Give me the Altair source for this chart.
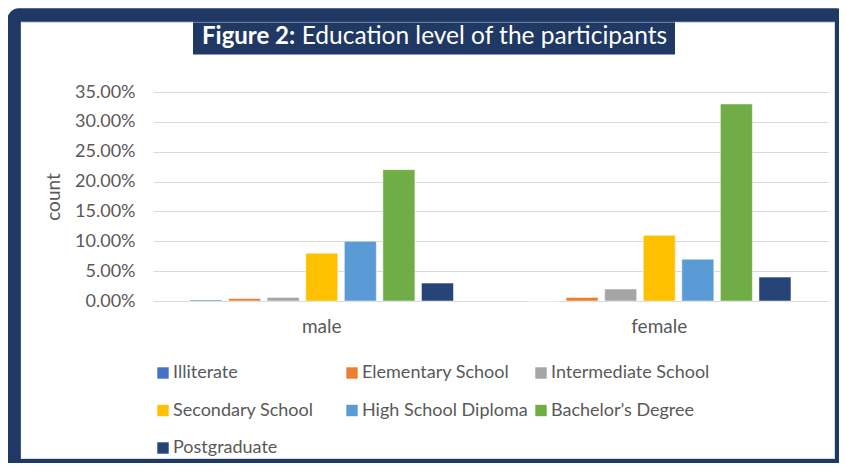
import altair as alt
import pandas as pd

genders = ["male", "female"]
levels = ["Illiterate", "Elementary School", "Intermediate School", "Secondary School",
          "High School Diploma", "Bachelor\u2019s Degree", "Postgraduate"]
male_vals = [0.0015, 0.004, 0.006, 0.08, 0.10, 0.22, 0.03]
female_vals = [0.0, 0.006, 0.02, 0.11, 0.07, 0.33, 0.04]
colors = ["#4472C4", "#ED7D31", "#A5A5A5", "#FFC000", "#5B9BD5", "#70AD47", "#264478"]
y_ticks = [0, 0.05, 0.10, 0.15, 0.20, 0.25, 0.30, 0.35]

rows = []
for g, vals in zip(genders, [male_vals, female_vals]):
    for lv, v in zip(levels, vals):
        rows.append({"gender": g, "level": lv, "value": v})
df = pd.DataFrame(rows)

FONT = "Lato"
GREY = "#595959"
NAVY = "#1F3864"
one = alt.Data(values=[{"a": 1}])

bars = alt.Chart(df).mark_bar(stroke="white", strokeWidth=0.5).encode(
    x=alt.X("gender:N", sort=genders,
            scale=alt.Scale(paddingInner=0.2, paddingOuter=0.1),
            axis=alt.Axis(title=None, labelAngle=0, labelFontSize=19, labelColor=GREY,
                          labelFont=FONT, labelPadding=16, ticks=False,
                          domainColor="#D9D9D9", domainWidth=1)),
    xOffset=alt.XOffset("level:N", sort=levels,
                        scale=alt.Scale(paddingInner=0.17, paddingOuter=0.085)),
    y=alt.Y("value:Q", scale=alt.Scale(domain=[0, 0.35], nice=False),
            axis=alt.Axis(values=y_ticks, format=".2%", title="count",
                          labelFontSize=18, labelColor=GREY, labelFont=FONT,
                          labelPadding=18, ticks=False, domain=False,
                          gridColor="#D9D9D9", gridWidth=1,
                          titleFont=FONT, titleFontSize=19, titleFontWeight="normal",
                          titleColor=GREY, titleX=-90, titleY=104.5)),
    color=alt.Color("level:N", sort=levels,
                    scale=alt.Scale(domain=levels, range=colors),
                    legend=alt.Legend(title=None, orient="none", legendX=1, legendY=272,
                                      direction="horizontal",
                                      columns=3, gridAlign="all", symbolType="square",
                                      symbolSize=130, symbolStrokeWidth=0,
                                      labelFont=FONT, labelFontSize=18, labelColor=GREY,
                                      labelOffset=1, rowPadding=19.5, columnPadding=4,
                                      labelLimit=300)),
)

frame = alt.Chart(one).mark_rect(fill="transparent", stroke=NAVY, strokeWidth=13.5,
                                 cornerRadius=5).encode(
    x=alt.value(-139), x2=alt.value(688.75), y=alt.value(-77), y2=alt.value(373.75))
inner = alt.Chart(one).mark_rect(fill="transparent", stroke="#A9B7CF", strokeWidth=1).encode(
    x=alt.value(-132.5), x2=alt.value(682), y=alt.value(-70), y2=alt.value(367))
title_box = alt.Chart(one).mark_rect(fill=NAVY).encode(
    x=alt.value(40), x2=alt.value(522), y=alt.value(-71), y2=alt.value(-37.5))
title_bold = alt.Chart(one).mark_text(text="Figure 2:", font=FONT, fontSize=24,
                                      fontWeight="bold", color="white", align="left",
                                      baseline="alphabetic").encode(
    x=alt.value(49), y=alt.value(-47.7))
title_rest = alt.Chart(one).mark_text(text="Education level of the participants", font=FONT,
                                      fontSize=24.5, color="white", align="left",
                                      baseline="alphabetic").encode(
    x=alt.value(148.7), y=alt.value(-47.7))

chart = alt.layer(bars, title_box, title_bold, title_rest, inner, frame).properties(
    width=675, height=209,
    autosize=alt.AutoSizeParams(type="none"),
    padding={"left": 145, "top": 84, "right": 11, "bottom": 162},
    background="white",
).configure_view(strokeWidth=0)

chart.save("out.html", embed_options={"renderer": "svg", "actions": False})
